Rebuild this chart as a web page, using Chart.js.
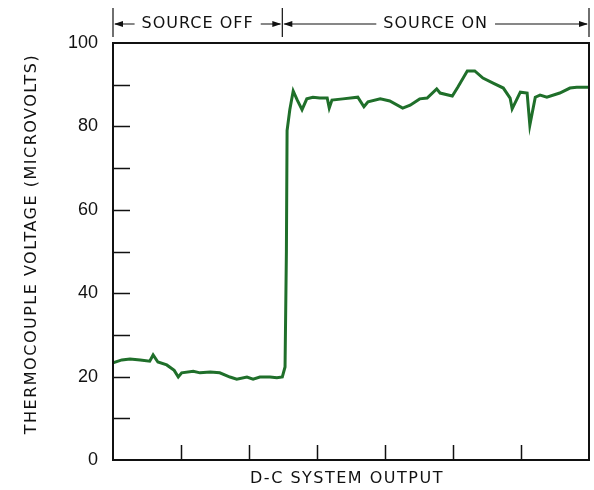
<!DOCTYPE html>
<html>
<head>
<meta charset="utf-8">
<script src="https://cdn.jsdelivr.net/npm/chart.js@4.4.1/dist/chart.umd.min.js"></script>
<style>
  html, body { margin: 0; padding: 0; background: #fff; }
  #wrap { width: 594px; height: 490px; position: relative; }
</style>
</head>
<body>
<div id="wrap"><canvas id="chart"></canvas></div>
<script>
// x is in units of the bottom tick spacing (7 divisions), y in microvolts
const outputX = [
  0, 0.13, 0.25, 0.40, 0.54, 0.59, 0.66, 0.79, 0.90, 0.96, 1.01, 1.18, 1.28, 1.43, 1.57,
  1.72, 1.82, 1.97, 2.06, 2.16, 2.31, 2.41, 2.49, 2.53, 2.55, 2.56, 2.60, 2.65, 2.71,
  2.78, 2.85, 2.94, 3.04, 3.15, 3.18, 3.22, 3.38, 3.60, 3.69, 3.75, 3.93, 4.07, 4.26,
  4.37, 4.51, 4.62, 4.76, 4.81, 4.99, 5.07, 5.21, 5.32, 5.44, 5.59, 5.74, 5.84, 5.87,
  5.99, 6.09, 6.13, 6.21, 6.28, 6.38, 6.57, 6.72, 6.82, 7.0
];
const voltage = [
  23.3, 24.0, 24.2, 24.0, 23.7, 25.2, 23.5, 22.8, 21.5, 19.9, 20.9, 21.3, 20.9, 21.1, 20.9,
  19.9, 19.4, 19.9, 19.4, 19.9, 19.9, 19.7, 19.9, 22.3, 50, 79, 84, 88.5, 86.3,
  84, 86.6, 87, 86.8, 86.8, 84.4, 86.3, 86.6, 87, 84.7, 85.9, 86.6, 86.1, 84.4,
  85.1, 86.6, 86.8, 89.0, 88, 87.3, 89.4, 93.3, 93.3, 91.6, 90.4, 89.2, 86.8, 84.2,
  88.2, 88, 80.3, 87, 87.5, 87, 88, 89.2, 89.4, 89.4
];
const yTickLabels = [0, 20, 40, 60, 80, 100];
const xTickValues = [1, 2, 3, 4, 5, 6];
const sourceSwitchX = 2.49;
const yTitle = 'THERMOCOUPLE VOLTAGE (MICROVOLTS)';
const xTitle = 'D-C SYSTEM OUTPUT';

const LETTER_FONT = '"DejaVu Sans", sans-serif';

const frameAndTicks = {
  id: 'frameAndTicks',
  afterDraw(chart) {
    const { ctx, chartArea: a, scales } = chart;
    ctx.save();
    ctx.strokeStyle = '#111';
    ctx.fillStyle = '#111';
    ctx.lineWidth = 2;
    ctx.strokeRect(a.left, a.top, a.right - a.left, a.bottom - a.top);

    // inward ticks
    ctx.lineWidth = 1.5;
    ctx.beginPath();
    for (let v = 10; v < 100; v += 10) {
      const y = Math.round(scales.y.getPixelForValue(v)) + 0.5;
      ctx.moveTo(a.left, y);
      ctx.lineTo(a.left + 17, y);
    }
    xTickValues.forEach(v => {
      const x = Math.round(scales.x.getPixelForValue(v)) + 0.5;
      ctx.moveTo(x, a.bottom);
      ctx.lineTo(x, a.bottom - 15);
    });
    ctx.stroke();

    // axis titles, lettering style
    ctx.font = '16px ' + LETTER_FONT;
    ctx.letterSpacing = '1.5px';
    ctx.textAlign = 'center';
    ctx.textBaseline = 'middle';
    ctx.fillText(xTitle, (a.left + a.right) / 2 - 4, 479);
    ctx.save();
    ctx.translate(32, 244);
    ctx.rotate(-Math.PI / 2);
    ctx.fillText(yTitle, 0, 0);
    ctx.restore();

    // SOURCE OFF / SOURCE ON span markers
    const xs = [a.left, scales.x.getPixelForValue(sourceSwitchX), a.right];
    const yLine = 24;
    ctx.lineWidth = 1.2;
    ctx.beginPath();
    xs.forEach(x => { ctx.moveTo(x, 8); ctx.lineTo(x, 37); });
    ctx.stroke();

    ctx.font = '16px ' + LETTER_FONT;
    ctx.letterSpacing = '1px';
    const spans = [['SOURCE OFF', xs[0], xs[1]], ['SOURCE ON', xs[1], xs[2]]];
    spans.forEach(([txt, x0, x1]) => {
      const cx = (x0 + x1) / 2;
      const w = ctx.measureText(txt).width / 2 + 7;
      ctx.fillText(txt, cx, yLine);
      ctx.beginPath();
      ctx.moveTo(x0 + 2, yLine); ctx.lineTo(cx - w, yLine);
      ctx.moveTo(cx + w, yLine); ctx.lineTo(x1 - 2, yLine);
      ctx.stroke();
      ctx.beginPath();
      ctx.moveTo(x0 + 1, yLine); ctx.lineTo(x0 + 10, yLine - 3); ctx.lineTo(x0 + 10, yLine + 3); ctx.closePath();
      ctx.moveTo(x1 - 1, yLine); ctx.lineTo(x1 - 10, yLine - 3); ctx.lineTo(x1 - 10, yLine + 3); ctx.closePath();
      ctx.fill();
    });
    ctx.restore();
  }
};

new Chart(document.getElementById('chart').getContext('2d'), {
  type: 'line',
  data: {
    datasets: [{
      data: outputX.map((x, i) => ({ x, y: voltage[i] })),
      borderColor: '#1f6f2a',
      borderWidth: 3,
      pointRadius: 0,
      tension: 0,
      fill: false
    }]
  },
  options: {
    responsive: true,
    maintainAspectRatio: false,
    animation: false,
    layout: { padding: { top: 43, right: 5, left: 0, bottom: 0 } },
    plugins: { legend: { display: false }, tooltip: { enabled: false } },
    scales: {
      x: {
        type: 'linear',
        min: 0, max: 7,
        grid: { display: false },
        border: { display: false },
        ticks: { display: false },
        afterFit: s => { s.height = 30; }
      },
      y: {
        min: 0, max: 100,
        grid: { display: false },
        border: { display: false },
        ticks: {
          stepSize: 20,
          padding: 7,
          color: '#111',
          font: { family: '"Liberation Sans", Arial, sans-serif', size: 18 },
          callback: v => yTickLabels.includes(v) ? String(v) : ''
        },
        afterFit: s => { s.width = 113; }
      }
    }
  },
  plugins: [frameAndTicks]
});
</script>
</body>
</html>
